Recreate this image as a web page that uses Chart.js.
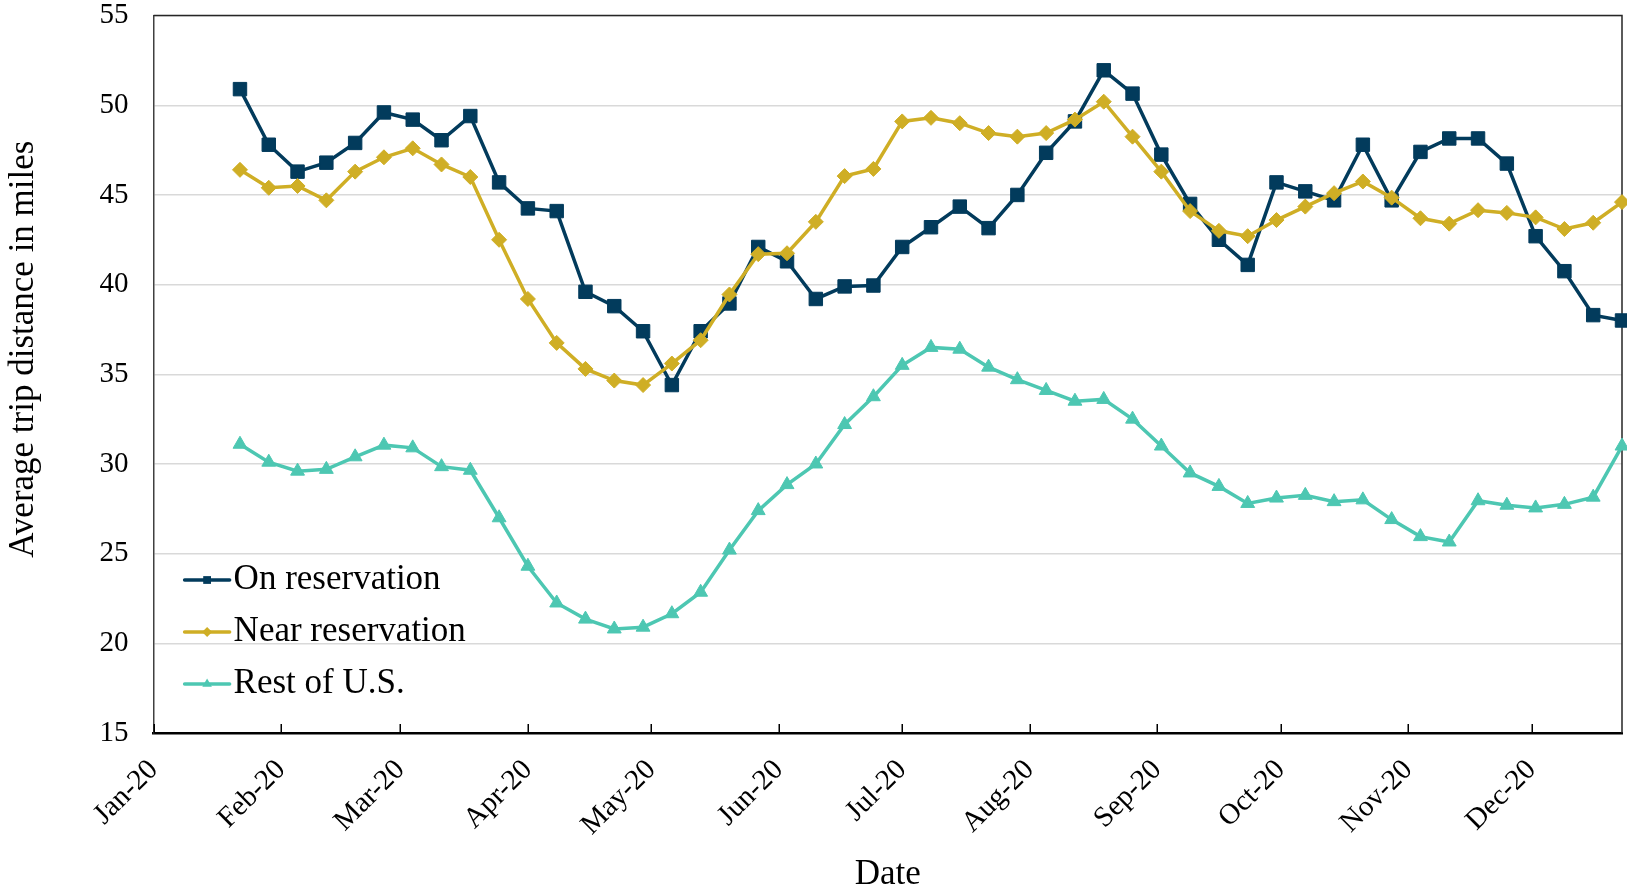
<!DOCTYPE html>
<html>
<head>
<meta charset="utf-8">
<script src="https://cdn.jsdelivr.net/npm/chart.js@4.4.1/dist/chart.umd.min.js"></script>
<style>
  html, body { margin: 0; padding: 0; background: #ffffff; }
  #wrap { width: 1627px; height: 894px; }
</style>
</head>
<body>
<div id="wrap"><canvas id="chart" width="1627" height="894"></canvas></div>
<script>
// Weekly observation dates (2020)
const weekDates = [
  '2020-01-22', '2020-01-29', '2020-02-05', '2020-02-12', '2020-02-19', '2020-02-26',
  '2020-03-04', '2020-03-11', '2020-03-18', '2020-03-25', '2020-04-01', '2020-04-08',
  '2020-04-15', '2020-04-22', '2020-04-29', '2020-05-06', '2020-05-13', '2020-05-20',
  '2020-05-27', '2020-06-03', '2020-06-10', '2020-06-17', '2020-06-24', '2020-07-01',
  '2020-07-08', '2020-07-15', '2020-07-22', '2020-07-29', '2020-08-05', '2020-08-12',
  '2020-08-19', '2020-08-26', '2020-09-02', '2020-09-09', '2020-09-16', '2020-09-23',
  '2020-09-30', '2020-10-07', '2020-10-14', '2020-10-21', '2020-10-28', '2020-11-04',
  '2020-11-11', '2020-11-18', '2020-11-25', '2020-12-02', '2020-12-09', '2020-12-16',
  '2020-12-23'
];

// Average trip distance in miles, per week
const onReservation = [
  50.9, 47.8, 46.3, 46.8, 47.9, 49.6, 49.2, 48.05, 49.4, 45.7,
  44.25, 44.1, 39.6, 38.8, 37.4, 34.4, 37.4, 38.95, 42.1, 41.3,
  39.2, 39.9, 39.95, 42.1, 43.2, 44.35, 43.15, 45.0, 47.35, 49.1,
  51.95, 50.65, 47.25, 44.5, 42.5, 41.1, 45.7, 45.2, 44.7, 47.8,
  44.7, 47.4, 48.15, 48.15, 46.75, 42.7, 40.75, 38.3, 38.0
];
const nearReservation = [
  46.4, 45.4, 45.5, 44.7, 46.3, 47.1, 47.6, 46.7, 46.0, 42.5,
  39.2, 36.75, 35.3, 34.65, 34.4, 35.6, 36.9, 39.45, 41.7, 41.75,
  43.5, 46.05, 46.45, 49.1, 49.3, 49.0, 48.45, 48.25, 48.45, 49.2,
  50.2, 48.25, 46.3, 44.1, 43.0, 42.7, 43.6, 44.35, 45.1, 45.75,
  44.85, 43.7, 43.4, 44.15, 44.0, 43.75, 43.1, 43.45, 44.6
];
const restOfUS = [
  31.1, 30.1, 29.6, 29.7, 30.4, 31.05, 30.9, 29.85, 29.65, 27.0,
  24.3, 22.25, 21.35, 20.8, 20.9, 21.65, 22.85, 25.2, 27.4, 28.85,
  30.0, 32.2, 33.75, 35.5, 36.5, 36.4, 35.4, 34.7, 34.1, 33.5,
  33.6, 32.5, 31.0, 29.5, 28.75, 27.8, 28.1, 28.25, 27.9, 28.0,
  26.9, 25.95, 25.65, 27.95, 27.7, 27.55, 27.75, 28.15, 31.0
];

// Month axis: tick dates and their labels
const monthStarts = [
  '2020-01-01', '2020-02-01', '2020-03-01', '2020-04-01', '2020-05-01', '2020-06-01',
  '2020-07-01', '2020-08-01', '2020-09-01', '2020-10-01', '2020-11-01', '2020-12-01'
];
const monthLabels = [
  'Jan-20', 'Feb-20', 'Mar-20', 'Apr-20', 'May-20', 'Jun-20',
  'Jul-20', 'Aug-20', 'Sep-20', 'Oct-20', 'Nov-20', 'Dec-20'
];

const seriesNames = ['On reservation', 'Near reservation', 'Rest of U.S.'];
const yAxisTitle = 'Average trip distance in miles';
const xAxisTitle = 'Date';

const FONT = "'Liberation Serif', 'Times New Roman', Times, serif";
const NAVY = '#023b5c';
const GOLD = '#cfae25';
const TEAL = '#4dc7b2';
const CLEAR = 'rgba(0,0,0,0)';

// Days since 1 Jan 2020
const dayOf = s => {
  const [y, m, d] = s.split('-').map(Number);
  return (Date.UTC(y, m - 1, d) - Date.UTC(2020, 0, 1)) / 86400000;
};
const toPoints = vals => weekDates.map((d, i) => ({ x: dayOf(d), y: vals[i] }));

const styles = [
  { color: NAVY, pointStyle: 'rect', radius: 9.5, legendRadius: 5.5 },
  { color: GOLD, pointStyle: 'rectRot', radius: 7.5, legendRadius: 5 },
  { color: TEAL, pointStyle: 'triangle', radius: 8, legendRadius: 5.5 }
];
const seriesValues = [onReservation, nearReservation, restOfUS];

const datasets = seriesValues.map((vals, i) => ({
  label: seriesNames[i],
  data: toPoints(vals),
  borderColor: styles[i].color,
  backgroundColor: styles[i].color,
  borderWidth: 3.5,
  tension: 0,
  pointStyle: styles[i].pointStyle,
  pointRadius: styles[i].radius,
  pointBorderWidth: 1,
  pointBackgroundColor: styles[i].color,
  pointBorderColor: styles[i].color,
  pointHoverRadius: styles[i].radius,
  clip: false,
  order: 3 - i
}));

function drawMarker(ctx, style, x, y, r) {
  ctx.beginPath();
  if (style === 'rect') {
    const h = r * Math.SQRT1_2;
    ctx.rect(x - h, y - h, 2 * h, 2 * h);
  } else if (style === 'rectRot') {
    ctx.moveTo(x - r, y); ctx.lineTo(x, y - r); ctx.lineTo(x + r, y); ctx.lineTo(x, y + r);
    ctx.closePath();
  } else {
    const a = 2 * Math.PI / 3;
    ctx.moveTo(x, y - r);
    ctx.lineTo(x + Math.sin(a) * r, y - Math.cos(a) * r);
    ctx.lineTo(x + Math.sin(2 * a) * r, y - Math.cos(2 * a) * r);
    ctx.closePath();
  }
  ctx.fill();
}

// Inward tick marks on the date axis, plus the top/right frame of the plot
const framePlugin = {
  id: 'frame',
  beforeDatasetsDraw(chart) {
    const { ctx, chartArea: a, scales: { x } } = chart;
    ctx.save();
    ctx.strokeStyle = '#000';
    ctx.lineWidth = 1.5;
    x.ticks.forEach(t => {
      const px = Math.round(x.getPixelForValue(t.value)) + 0.25;
      ctx.beginPath();
      ctx.moveTo(px, a.bottom);
      ctx.lineTo(px, a.bottom - 9);
      ctx.stroke();
    });
    ctx.strokeStyle = '#262626';
    ctx.lineWidth = 1.5;
    ctx.beginPath();
    ctx.moveTo(a.left, a.top);
    ctx.lineTo(a.right, a.top);
    ctx.lineTo(a.right, a.bottom);
    ctx.stroke();
    ctx.restore();
  },
  // vertical axis title, set a little above the middle of the plot
  afterDraw(chart) {
    const { ctx, chartArea: a } = chart;
    ctx.save();
    ctx.translate(24, a.top + (a.bottom - a.top) * 0.465);
    ctx.rotate(-Math.PI / 2);
    ctx.fillStyle = '#000';
    ctx.font = '35px ' + FONT;
    ctx.textAlign = 'center';
    ctx.textBaseline = 'middle';
    ctx.fillText(yAxisTitle, 0, 0);
    ctx.restore();
  }
};

// Legend drawn inside the lower-left corner of the plot
const legendPlugin = {
  id: 'insideLegend',
  afterDatasetsDraw(chart) {
    const { ctx, chartArea: a } = chart;
    const rowOffsets = [153, 101, 49];
    ctx.save();
    chart.data.datasets.forEach((ds, i) => {
      const y = a.bottom - rowOffsets[i];
      const x0 = a.left + 31, x1 = a.left + 76;
      ctx.strokeStyle = styles[i].color;
      ctx.fillStyle = styles[i].color;
      ctx.lineWidth = 3.5;
      ctx.lineCap = 'round';
      ctx.beginPath();
      ctx.moveTo(x0, y);
      ctx.lineTo(x1, y);
      ctx.stroke();
      drawMarker(ctx, styles[i].pointStyle, (x0 + x1) / 2, y, styles[i].legendRadius);
      ctx.fillStyle = '#000';
      ctx.font = '35px ' + FONT;
      ctx.textBaseline = 'middle';
      ctx.textAlign = 'left';
      ctx.fillText(ds.label, a.left + 80, y);
    });
    ctx.restore();
  }
};

new Chart(document.getElementById('chart'), {
  type: 'line',
  data: { datasets },
  plugins: [framePlugin, legendPlugin],
  options: {
    responsive: false,
    animation: false,
    devicePixelRatio: 1,
    events: [],
    layout: { autoPadding: false, padding: { top: 15.6, right: 5, bottom: 0, left: 0 } },
    plugins: {
      legend: { display: false },
      tooltip: { enabled: false }
    },
    scales: {
      x: {
        type: 'linear',
        min: dayOf(monthStarts[0]),
        max: dayOf(weekDates[weekDates.length - 1]),
        afterBuildTicks: scale => {
          scale.ticks = monthStarts.map(d => ({ value: dayOf(d) }));
        },
        afterFit: scale => { scale.height = 161; },
        grid: { display: true, drawOnChartArea: false, drawTicks: true, tickLength: 20, tickColor: CLEAR },
        border: { color: '#000', width: 2.5 },
        ticks: {
          autoSkip: false,
          minRotation: 45,
          maxRotation: 45,
          padding: 0,
          color: '#000',
          font: { family: FONT, size: 29 },
          callback: (v, i) => monthLabels[i]
        },
        title: {
          display: true,
          text: xAxisTitle,
          color: '#000',
          font: { family: FONT, size: 35, lineHeight: 1.1 },
          padding: { top: 0, bottom: 0 }
        }
      },
      y: {
        min: 15,
        max: 55,
        afterFit: scale => { scale.width = 153.6; },
        grid: { color: '#d9d9d9', lineWidth: 1.5, drawTicks: true, tickLength: 25, tickColor: CLEAR },
        border: { color: '#404040', width: 1.5 },
        ticks: {
          stepSize: 5,
          padding: 0,
          color: '#000',
          font: { family: FONT, size: 29, lineHeight: 1 }
        }
      }
    }
  }
});
</script>
</body>
</html>
